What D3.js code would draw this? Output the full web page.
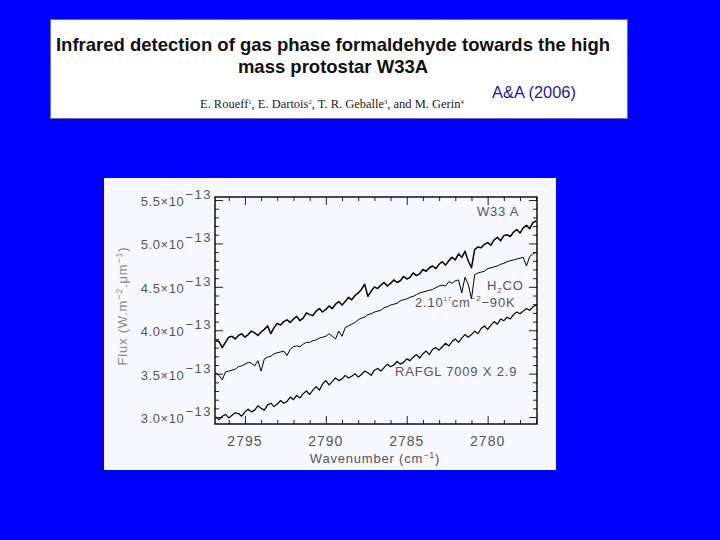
<!DOCTYPE html>
<html><head><meta charset="utf-8">
<script src="https://cdn.jsdelivr.net/npm/d3@7"></script>
<style>body{margin:0;background:#0000ff;} svg{display:block}</style>
</head><body>
<svg id="c" width="720" height="540"></svg>
<script>
// ---------- data (flux in units of 1e-13 W m^-2 um^-1) ----------
const wavenumbers = [
 2796.8,2796.6,2796.4,2796.2,2796.0, 2795.8,2795.6,2795.4,2795.2,2795.0,
 2794.8,2794.6,2794.4,2794.2,2794.0, 2793.8,2793.6,2793.4,2793.2,2793.0,
 2792.8,2792.6,2792.4,2792.2,2792.0, 2791.8,2791.6,2791.4,2791.2,2791.0,
 2790.8,2790.6,2790.4,2790.2,2790.0, 2789.8,2789.6,2789.4,2789.2,2789.0,
 2788.8,2788.6,2788.4,2788.2,2788.0, 2787.8,2787.6,2787.4,2787.2,2787.0,
 2786.8,2786.6,2786.4,2786.2,2786.0, 2785.8,2785.6,2785.4,2785.2,2785.0,
 2784.8,2784.6,2784.4,2784.2,2784.0, 2783.8,2783.6,2783.4,2783.2,2783.0,
 2782.8,2782.6,2782.4,2782.2,2782.0, 2781.8,2781.6,2781.4,2781.2,2781.0,
 2780.8,2780.6,2780.4,2780.2,2780.0, 2779.8,2779.6,2779.4,2779.2,2779.0,
 2778.8,2778.6,2778.4,2778.2,2778.0, 2777.8,2777.6,2777.4,2777.2,2777.0
];
const fluxW33A = [
 3.88,3.87,3.80,3.86,3.92, 3.93,3.90,3.94,3.96,3.92,
 3.95,3.99,3.97,3.94,3.98, 4.01,4.05,3.96,4.03,4.08,
 4.06,4.10,4.12,4.09,4.13, 4.16,4.11,4.14,4.20,4.18,
 4.17,4.22,4.25,4.21,4.24, 4.28,4.25,4.30,4.33,4.29,
 4.33,4.38,4.35,4.40,4.43, 4.47,4.53,4.39,4.45,4.50,
 4.48,4.52,4.55,4.51,4.54, 4.58,4.55,4.57,4.62,4.59,
 4.61,4.66,4.63,4.65,4.70, 4.68,4.72,4.74,4.71,4.76,
 4.79,4.75,4.80,4.84,4.81, 4.88,4.84,4.91,4.80,4.72,
 4.93,4.96,4.95,4.99,5.01, 4.98,5.04,5.07,5.03,5.09,
 5.10,5.08,5.13,5.16,5.12, 5.18,5.21,5.17,5.24,5.26
];
const fluxH2CO = [
 3.51,3.48,3.43,3.52,3.53, 3.54,3.55,3.58,3.59,3.61,
 3.63,3.62,3.59,3.65,3.53, 3.67,3.69,3.70,3.73,3.74,
 3.75,3.76,3.71,3.78,3.81, 3.82,3.81,3.84,3.86,3.86,
 3.88,3.89,3.91,3.92,3.93, 3.96,3.93,3.90,3.99,3.93,
 4.03,4.05,4.07,4.09,4.12, 4.14,4.15,4.18,4.19,4.21,
 4.22,4.23,4.26,4.27,4.29, 4.30,4.31,4.34,4.35,4.36,
 4.38,4.39,4.41,4.43,4.44, 4.45,4.46,4.47,4.49,4.51,
 4.52,4.51,4.56,4.54,4.57, 4.58,4.43,4.61,4.53,4.36,
 4.64,4.66,4.67,4.68,4.71, 4.72,4.73,4.74,4.76,4.77,
 4.79,4.80,4.81,4.82,4.83, 4.84,4.74,4.85,4.88,4.90
];
const fluxRAFGL = [
 3.00,2.97,3.01,3.03,2.99, 3.02,3.05,3.04,3.01,3.06,
 3.09,3.06,3.08,3.13,3.10, 3.08,3.14,3.16,3.12,3.15,
 3.19,3.16,3.18,3.23,3.20, 3.25,3.22,3.27,3.30,3.26,
 3.31,3.35,3.31,3.38,3.42, 3.37,3.41,3.45,3.42,3.44,
 3.48,3.45,3.47,3.50,3.46, 3.49,3.53,3.51,3.48,3.54,
 3.56,3.53,3.57,3.61,3.58, 3.60,3.64,3.61,3.63,3.67,
 3.65,3.69,3.72,3.68,3.73, 3.76,3.72,3.78,3.80,3.77,
 3.81,3.85,3.82,3.87,3.90, 3.86,3.91,3.95,3.92,3.95,
 3.99,3.96,4.02,4.05,4.01, 4.06,4.10,4.07,4.13,4.11,
 4.15,4.13,4.18,4.21,4.19, 4.22,4.25,4.23,4.27,4.29
];
const yTickValues = [3.0, 3.5, 4.0, 4.5, 5.0, 5.5];
const yTickLabels = ["3.0", "3.5", "4.0", "4.5", "5.0", "5.5"];
const yMinorValues = [3.1,3.2,3.3,3.4,3.6,3.7,3.8,3.9,4.1,4.2,4.3,4.4,4.6,4.7,4.8,4.9,5.1,5.2,5.3,5.4];
const xTickValues = [2795, 2790, 2785, 2780];
const xTickLabels = ["2795", "2790", "2785", "2780"];
const xMinorValues = [2796,2794,2793,2792,2791,2789,2788,2787,2786,2784,2783,2782,2781,2779,2778,2777];

// ---------- drawing ----------
const svg = d3.select("#c");
svg.append("rect").attr("width",720).attr("height",540).attr("fill","#0000ff");

function fit(sel, target){
  const len = sel.node().getComputedTextLength();
  const fs = parseFloat(sel.attr("font-size"));
  sel.attr("font-size", (fs*target/len).toFixed(2));
}

// title box
svg.append("rect").attr("x",50.5).attr("y",19.5).attr("width",577).attr("height",99)
  .attr("fill","#ffffff").attr("stroke","#6c6cb8").attr("stroke-width",1);
const t1 = svg.append("text").attr("x",333).attr("y",51).attr("text-anchor","middle")
  .attr("font-family","Liberation Sans, Arial, sans-serif").attr("font-weight","bold")
  .attr("font-size",18).attr("fill","#111")
  .text("Infrared detection of gas phase formaldehyde towards the high");
fit(t1, 554);
svg.append("text").attr("x",333).attr("y",73).attr("text-anchor","middle")
  .attr("font-family","Liberation Sans, Arial, sans-serif").attr("font-weight","bold")
  .attr("font-size",t1.attr("font-size")).attr("fill","#111")
  .text("mass protostar W33A");
const au = svg.append("text").attr("x",200).attr("y",108)
  .attr("font-family","Liberation Serif, Times New Roman, serif")
  .attr("font-size",10).attr("fill","#222");
const authors = [["E. Roueff","1"],[", E. Dartois","2"],[", T. R. Geballe","3"],[", and M. Gerin","4"]];
authors.forEach(([n,s],i)=>{
  au.append("tspan").text(n).attr("dy", i===0 ? 0 : 4);
  au.append("tspan").text(s).attr("font-size",6.5).attr("dy",-4);
});
fit(au, 267);
const aa = svg.append("text").attr("x",492).attr("y",98)
  .attr("font-family","Liberation Sans, Arial, sans-serif")
  .attr("font-size",14).attr("fill","#1a1aa0").text("A&A (2006)");
fit(aa, 84);

// chart panel
svg.append("rect").attr("x",104).attr("y",178).attr("width",452).attr("height",292).attr("fill","#f7f8fd");

const x = d3.scaleLinear().domain([2796.85, 2776.95]).range([215, 537]);
const y = d3.scaleLinear().domain([2.92, 5.535]).range([424, 197]);

const tickColor = "#222";
function axis(gen, tr, vals, size){
  const g = svg.append("g").attr("transform", tr)
    .call(gen.tickValues(vals).tickSize(size).tickFormat(""));
  g.select(".domain").remove();
  g.selectAll("line").attr("stroke", tickColor).attr("stroke-width",1);
}
axis(d3.axisLeft(y), "translate(215,0)", yTickValues, -8);
axis(d3.axisLeft(y), "translate(215,0)", yMinorValues, -4);
axis(d3.axisRight(y), "translate(537,0)", yTickValues, -8);
axis(d3.axisRight(y), "translate(537,0)", yMinorValues, -4);
axis(d3.axisBottom(x), "translate(0,424)", xTickValues, -8);
axis(d3.axisBottom(x), "translate(0,424)", xMinorValues, -4);
axis(d3.axisTop(x), "translate(0,197)", xTickValues, -8);
axis(d3.axisTop(x), "translate(0,197)", xMinorValues, -4);

svg.append("rect").attr("x",x.range()[0]).attr("y",y.range()[1])
  .attr("width",x.range()[1]-x.range()[0]).attr("height",y.range()[0]-y.range()[1])
  .attr("fill","none").attr("stroke","#000").attr("stroke-width",1.4);

const labelFont = "Liberation Sans, Arial, sans-serif";
const labelColor = "#555";
// y tick labels
yTickValues.forEach((v,i)=>{
  const t = svg.append("text").attr("x",212).attr("y",y(v)+6).attr("text-anchor","end")
    .attr("font-family",labelFont).attr("font-size",13).attr("fill",labelColor)
    .attr("letter-spacing","0.6px");
  t.append("tspan").text(yTickLabels[i] + "\u00d710");
  t.append("tspan").text("\u221213").attr("dy",-7).attr("dx",1).attr("font-size",13).attr("letter-spacing","1.5px");
});
// x tick labels
xTickValues.forEach((v,i)=>{
  svg.append("text").attr("x",x(v)).attr("y",446).attr("text-anchor","middle")
    .attr("font-family",labelFont).attr("font-size",14).attr("fill",labelColor)
    .attr("letter-spacing","1px").text(xTickLabels[i]);
});
// x title
const xt = svg.append("text").attr("x",375).attr("y",463).attr("text-anchor","middle")
  .attr("font-family",labelFont).attr("font-size",13).attr("fill",labelColor).attr("letter-spacing","0.8px");
xt.append("tspan").text("Wavenumber  (cm");
xt.append("tspan").text("\u22121").attr("dy",-5).attr("font-size",9);
xt.append("tspan").text(")").attr("dy",5);
// y title
const yt = svg.append("text").attr("transform","translate(127,306) rotate(-90)").attr("text-anchor","middle")
  .attr("font-family",labelFont).attr("font-size",13).attr("fill","#8a8a8a").attr("letter-spacing","0.8px");
yt.append("tspan").text("Flux  (W.m");
yt.append("tspan").text("\u22122").attr("dy",-5).attr("font-size",9);
yt.append("tspan").text(".\u03bcm").attr("dy",5);
yt.append("tspan").text("\u22121").attr("dy",-5).attr("font-size",9);
yt.append("tspan").text(")").attr("dy",5);

// series
const line = d3.line().x((d,i)=>x(wavenumbers[i])).y(d=>y(d));
[[fluxW33A,1.5],[fluxH2CO,1.0],[fluxRAFGL,1.2]].forEach(([s,w])=>{
  svg.append("path").attr("d", line(s)).attr("fill","none").attr("stroke","#000")
    .attr("stroke-width",w).attr("stroke-linejoin","round");
});

// annotations
function ann(xp, yp){
  return svg.append("text").attr("x",xp).attr("y",yp).attr("font-family",labelFont)
    .attr("font-size",13).attr("fill",labelColor).attr("letter-spacing","0.8px");
}
ann(477,216).text("W33  A");
const h = ann(487,290);
h.append("tspan").text("H");
h.append("tspan").text("2").attr("dy",3).attr("font-size",8);
h.append("tspan").text("CO").attr("dy",-3);
const m = ann(415,307);
m.append("tspan").text("2.10");
m.append("tspan").text("17").attr("dy",-6).attr("font-size",6);
m.append("tspan").text("cm").attr("dy",6);
m.append("tspan").text("\u22122").attr("dy",-6).attr("font-size",8);
m.append("tspan").text("\u221290K").attr("dy",6);
ann(395,376).text("RAFGL  7009  X  2.9");
</script>
</body></html>
